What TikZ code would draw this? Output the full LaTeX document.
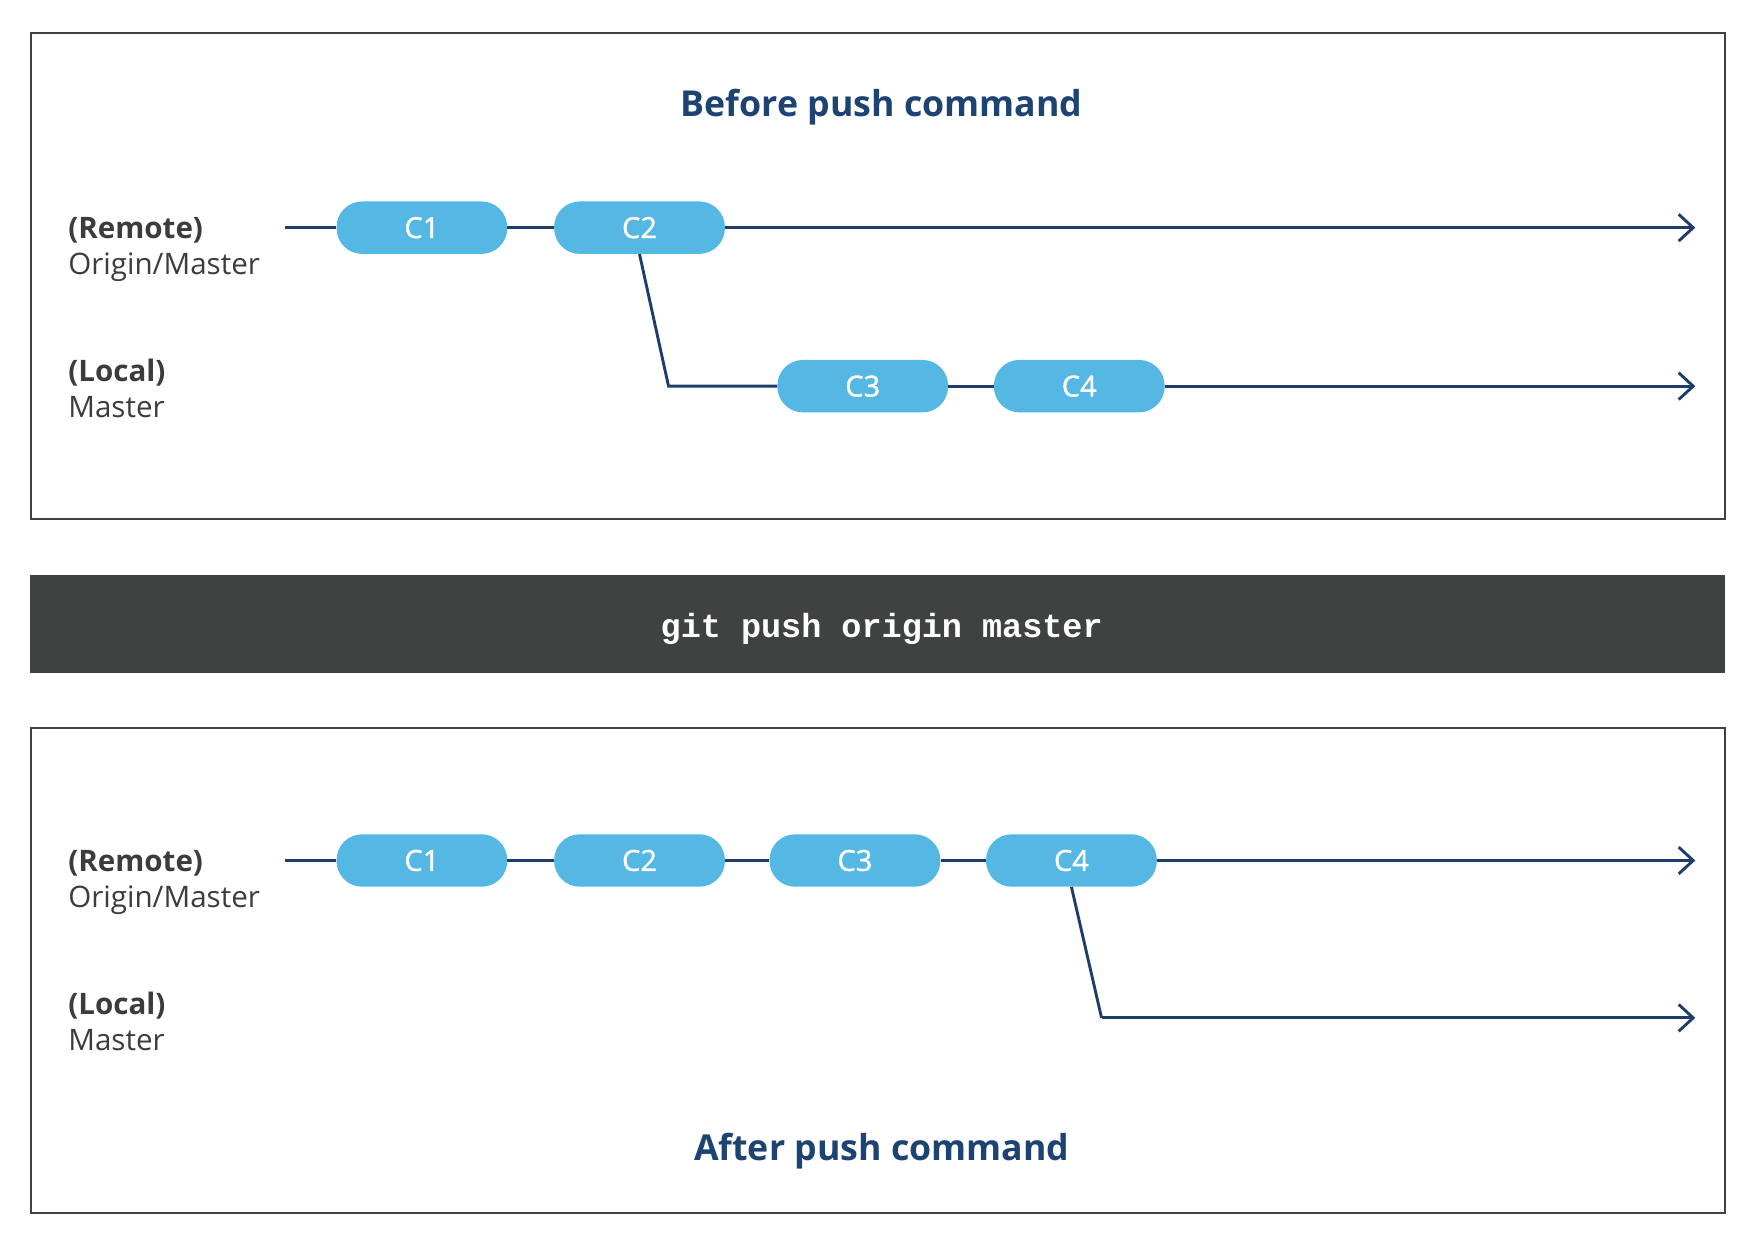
\documentclass[tikz,border=0pt]{standalone}
\usepackage{fontspec}
\setmainfont{Open Sans}
\newfontfamily\codefont{Liberation Mono}
\newfontfamily\pillfont[FakeBold=1.2]{Open Sans}
\usetikzlibrary{arrows.meta}
\definecolor{pill}{HTML}{55B7E3}
\definecolor{navy}{HTML}{1F3D6B}
\definecolor{ttl}{HTML}{1D4373}
\definecolor{lbl}{HTML}{3C3C3C}
\definecolor{band}{HTML}{404241}
\definecolor{frm}{HTML}{404040}
\tikzset{
  commit/.style={fill=pill, rounded corners=23pt, minimum width=153pt, minimum height=47pt, inner sep=0pt, text=white, font=\pillfont\fontsize{26}{30}\selectfont},
  conn/.style={draw=navy, line width=2.6pt},
  arr/.style={conn, -{Straight Barb[length=13pt,width=24pt,line width=2.6pt]}},
  frame/.style={draw=frm, line width=1.8pt},
  title/.style={text=ttl, font=\fontsize{32}{38}\selectfont\bfseries, anchor=base, inner sep=0pt},
  lblb/.style={text=lbl, font=\fontsize{26.5}{30}\selectfont\bfseries, anchor=base west, inner sep=0pt},
  lblr/.style={text=lbl, font=\fontsize{26.5}{30}\selectfont, anchor=base west, inner sep=0pt},
}
\begin{document}
\begin{tikzpicture}[x=1pt,y=-1pt]
\useasboundingbox (0,0) rectangle (1568,1111);
% frames
\draw[frame] (28,30) rectangle (1546,465);
\fill[band] (27,515) rectangle (1546,603);
\draw[frame] (28,652) rectangle (1546,1087);
% titles and command
\node[title] (t1) at (790,104.5) {Before push command};
\node[title] (t2) at (790,1039.5) {After push command};
\node[text=white, font=\codefont\fontsize{30}{34}\selectfont\bfseries, anchor=base, inner sep=0pt] (cmd) at (790,571.5) {git push origin master};
% labels top
\node[lblb] (r1) at (61,214) {(Remote)};
\node[lblr] (o1) at (61,246) {Origin/Master};
\node[lblb] (l1) at (61,342) {(Local)};
\node[lblr] (m1) at (61,374) {Master};
% labels bottom
\node[lblb] (r2) at (61,781) {(Remote)};
\node[lblr] (o2) at (61,813) {Origin/Master};
\node[lblb] (l2) at (61,909) {(Local)};
\node[lblr] (m2) at (61,941) {Master};
% top commits
\node[commit] (a1) at (378,204) {C1};
\node[commit] (a2) at (573,204) {C2};
\node[commit] (a3) at (773,346) {C3};
\node[commit] (a4) at (967,346) {C4};
\coordinate (as) at (255,204);
\coordinate (ae) at (1519,204);
\coordinate (ab) at (599,346);
\coordinate (ae2) at (1519,346);
\draw[conn] (as) -- (a1);
\draw[conn] (a1) -- (a2);
\draw[arr] (a2) -- (ae);
\draw[conn] (a2.south) -- (ab) -- (a3.west);
\draw[conn] (a3) -- (a4);
\draw[arr] (a4) -- (ae2);
% bottom commits
\node[commit] (b1) at (378,771) {C1};
\node[commit] (b2) at (573,771) {C2};
\node[commit] (b3) at (766,771) {C3};
\node[commit] (b4) at (960,771) {C4};
\coordinate (bs) at (255,771);
\coordinate (be) at (1519,771);
\coordinate (bb) at (987,912);
\coordinate (be2) at (1519,912);
\draw[conn] (bs) -- (b1);
\draw[conn] (b1) -- (b2);
\draw[conn] (b2) -- (b3);
\draw[conn] (b3) -- (b4);
\draw[arr] (b4) -- (be);
\draw[conn] (b4.south) -- (bb);
\draw[arr] (bb) -- (be2);
\end{tikzpicture}
\end{document}
